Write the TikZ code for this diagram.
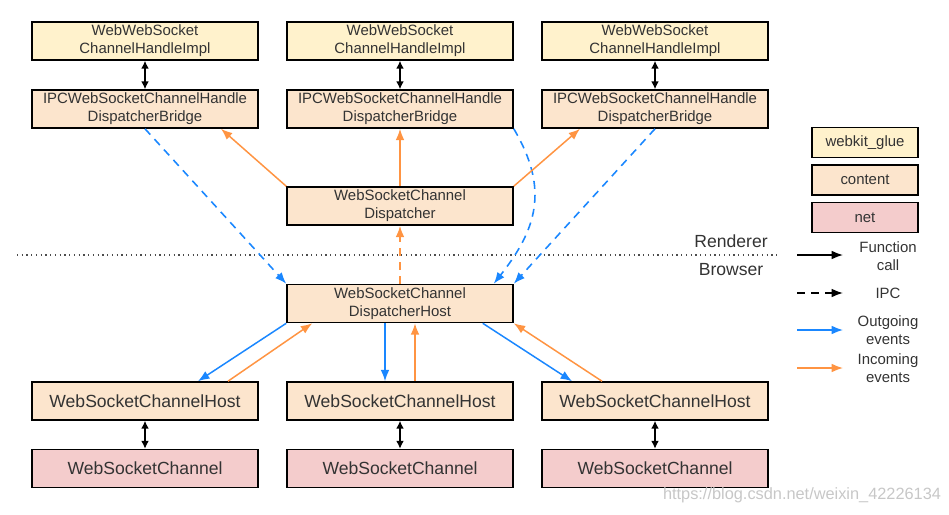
\documentclass[tikz,border=0pt]{standalone}
\usepackage{fontspec}
\setmainfont{Liberation Sans}
\usetikzlibrary{arrows.meta}

\definecolor{gluefill}{HTML}{FFF2CC}
\definecolor{contentfill}{HTML}{FCE5CD}
\definecolor{netfill}{HTML}{F4CCCC}
\definecolor{outblue}{HTML}{1A87FF}
\definecolor{inorange}{HTML}{FF9442}

\tikzset{
	box/.style={draw=black, line width=0.9pt, minimum width=4.52cm, minimum height=0.76cm,
		inner sep=0pt, align=center, text=black!80, font=\fontsize{8.5}{10.2}\selectfont},
	gluebox/.style={box, fill=gluefill},
	contentbox/.style={box, fill=contentfill},
	netbox/.style={box, fill=netfill},
	bigbox/.style={font=\fontsize{10}{12}\selectfont},
	legendbox/.style={box, minimum width=2.12cm, minimum height=0.6cm},
	label/.style={align=center, text=black!80, font=\fontsize{8.5}{10}\selectfont},
	funcall/.style={{Latex[length=4.5pt,width=4.5pt]}-{Latex[length=4.5pt,width=4.5pt]}, line width=0.8pt},
	outgoing/.style={-{Latex[length=6.5pt,width=5pt]}, outblue, line width=0.85pt},
	incoming/.style={-{Latex[length=6.5pt,width=5pt]}, inorange, line width=0.85pt},
	ipc/.style={dash pattern=on 4.5pt off 3.5pt, line width=0.9pt},
}

\begin{document}
\begin{tikzpicture}[x=0.02cm, y=-0.02cm]
	\useasboundingbox (0,0) rectangle (949,514);

	% renderer side
	\node[gluebox] (wgl) at (145,41) {WebWebSocket\\ChannelHandleImpl};
	\node[gluebox] (wgm) at (400,41) {WebWebSocket\\ChannelHandleImpl};
	\node[gluebox] (wgr) at (655,41) {WebWebSocket\\ChannelHandleImpl};
	\node[contentbox] (brl) at (145,109) {IPCWebSocketChannelHandle\\DispatcherBridge};
	\node[contentbox] (brm) at (400,109) {IPCWebSocketChannelHandle\\DispatcherBridge};
	\node[contentbox] (brr) at (655,109) {IPCWebSocketChannelHandle\\DispatcherBridge};
	\node[contentbox] (disp) at (400,206) {WebSocketChannel\\Dispatcher};

	% browser side
	\node[contentbox] (host) at (400,303.5) {WebSocketChannel\\DispatcherHost};
	\node[contentbox, bigbox] (hl) at (145,401) {WebSocketChannelHost};
	\node[contentbox, bigbox] (hm) at (400,401) {WebSocketChannelHost};
	\node[contentbox, bigbox] (hr) at (655,401) {WebSocketChannelHost};
	\node[netbox, bigbox] (chl) at (145,468.5) {WebSocketChannel};
	\node[netbox, bigbox] (chm) at (400,468.5) {WebSocketChannel};
	\node[netbox, bigbox] (chr) at (655,468.5) {WebSocketChannel};

	\draw[funcall] (wgl) -- (brl);
	\draw[funcall] (wgm) -- (brm);
	\draw[funcall] (wgr) -- (brr);
	\draw[funcall] (hl) -- (chl);
	\draw[funcall] (hm) -- (chm);
	\draw[funcall] (hr) -- (chr);

	% process boundary
	\coordinate (sepL) at (17,255);
	\coordinate (sepR) at (780,255);
	\draw[dotted, line width=0.7pt, black!70] (sepL) -- (sepR);
	\node[label, bigbox] (renderer) at (731,241) {Renderer};
	\node[label, bigbox] (browser) at (731,270) {Browser};

	% ipc between dispatcher and host
	\draw[outgoing, ipc] (brl.south) -- (host.north west);
	\draw[outgoing, ipc] (brm.south east) .. controls (550,190) and (536,230) .. ([xshift=-0.4cm]host.north east);
	\draw[outgoing, ipc] (brr.south) -- (host.north east);
	\draw[incoming, ipc] (host.north) -- (disp.south);
	\draw[incoming] (disp.north west) -- ([xshift=1.52cm]brl.south);
	\draw[incoming] (disp.north) -- (brm.south);
	\draw[incoming] (disp.north east) -- ([xshift=-1.5cm]brr.south);

	% host to channel hosts
	\draw[outgoing] (host.south west) -- ([xshift=1.06cm]hl.north);
	\draw[incoming] ([xshift=1.66cm]hl.north) -- ([xshift=0.52cm]host.south west);
	\draw[outgoing] ([xshift=-0.3cm]host.south) -- ([xshift=-0.3cm]hm.north);
	\draw[incoming] ([xshift=0.3cm]hm.north) -- ([xshift=0.3cm]host.south);
	\draw[outgoing] ([xshift=-0.62cm]host.south east) -- ([xshift=-1.66cm]hr.north);
	\draw[incoming] ([xshift=-1.06cm]hr.north) -- (host.south east);

	% legend
	\node[legendbox, fill=gluefill] (lgglue) at (865,142.5) {webkit\_glue};
	\node[legendbox, fill=contentfill] (lgcontent) at (865,180) {content};
	\node[legendbox, fill=netfill] (lgnet) at (865,217.5) {net};

	\coordinate (fcA) at (797,255);
	\coordinate (fcB) at (843,255);
	\coordinate (ipcA) at (797,293);
	\coordinate (ipcB) at (843,293);
	\coordinate (outA) at (797,330);
	\coordinate (outB) at (843,330);
	\coordinate (inA) at (797,368);
	\coordinate (inB) at (843,368);
	\draw[-{Latex[length=6.5pt,width=5pt]}, line width=0.85pt] (fcA) -- (fcB);
	\draw[-{Latex[length=6.5pt,width=5pt]}, line width=0.85pt, ipc] (ipcA) -- (ipcB);
	\draw[outgoing] (outA) -- (outB);
	\draw[incoming] (inA) -- (inB);
	\node[label] (lgfc) at (888,256) {Function\\call};
	\node[label] (lgipc) at (888,293) {IPC};
	\node[label] (lgout) at (888,330) {Outgoing\\events};
	\node[label] (lgin) at (888,368) {Incoming\\events};

	\node[text=black!22, font=\fontsize{9.3}{11}\selectfont] (mark) at (802,495) {https://blog.csdn.net/weixin\_42226134};
\end{tikzpicture}
\end{document}
